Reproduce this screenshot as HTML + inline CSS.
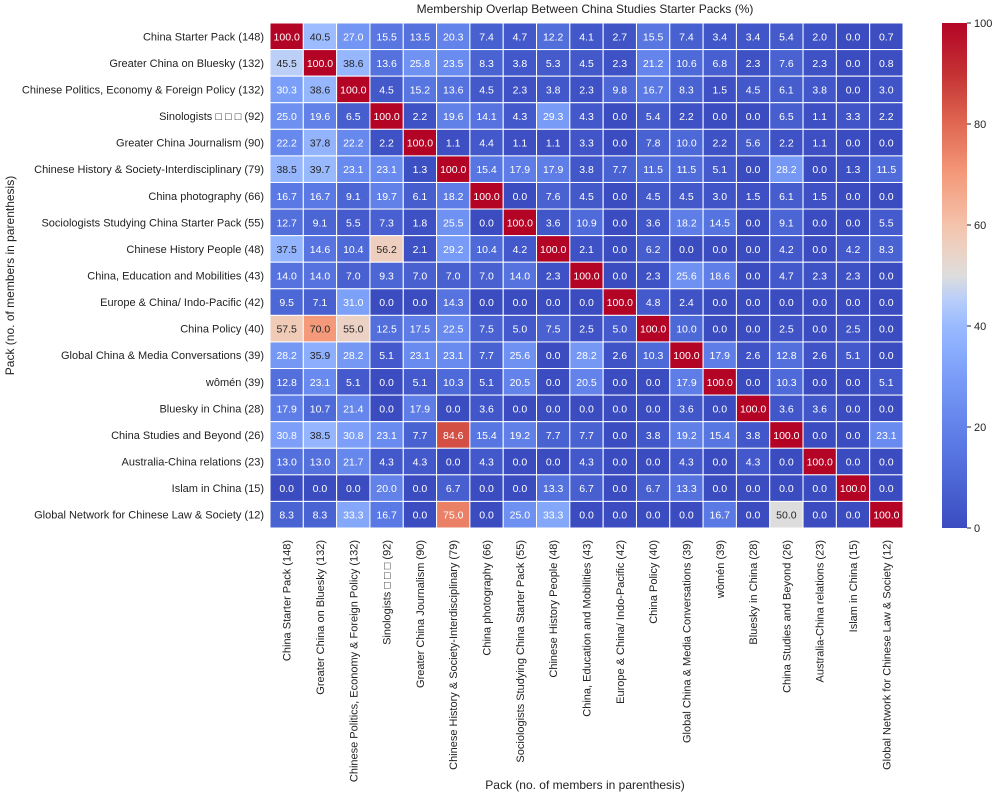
<!DOCTYPE html>
<html><head><meta charset="utf-8"><style>
body{margin:0;background:#fff;}
svg{display:block;font-family:"Liberation Sans","Noto Sans CJK SC",sans-serif;}
</style></head><body>
<svg id="chart" width="1000" height="798"></svg>
<script>
const labels=["China Starter Pack (148)","Greater China on Bluesky (132)","Chinese Politics, Economy & Foreign Policy (132)","Sinologists \u25A1 \u25A1 \u25A1  (92)","Greater China Journalism (90)","Chinese History & Society-Interdisciplinary (79)","China photography (66)","Sociologists Studying China Starter Pack (55)","Chinese History People (48)","China, Education and Mobilities (43)","Europe & China/ Indo-Pacific (42)","China Policy (40)","Global China & Media Conversations (39)","wômén (39)","Bluesky in China (28)","China Studies and Beyond (26)","Australia-China relations (23)","Islam in China (15)","Global Network for Chinese Law & Society (12)"];
const values=[
[100,40.5,27.0,15.5,13.5,20.3,7.4,4.7,12.2,4.1,2.7,15.5,7.4,3.4,3.4,5.4,2.0,0.0,0.7],
[45.5,100,38.6,13.6,25.8,23.5,8.3,3.8,5.3,4.5,2.3,21.2,10.6,6.8,2.3,7.6,2.3,0.0,0.8],
[30.3,38.6,100,4.5,15.2,13.6,4.5,2.3,3.8,2.3,9.8,16.7,8.3,1.5,4.5,6.1,3.8,0.0,3.0],
[25.0,19.6,6.5,100,2.2,19.6,14.1,4.3,29.3,4.3,0.0,5.4,2.2,0.0,0.0,6.5,1.1,3.3,2.2],
[22.2,37.8,22.2,2.2,100,1.1,4.4,1.1,1.1,3.3,0.0,7.8,10.0,2.2,5.6,2.2,1.1,0.0,0.0],
[38.5,39.7,23.1,23.1,1.3,100,15.4,17.9,17.9,3.8,7.7,11.5,11.5,5.1,0.0,28.2,0.0,1.3,11.5],
[16.7,16.7,9.1,19.7,6.1,18.2,100,0.0,7.6,4.5,0.0,4.5,4.5,3.0,1.5,6.1,1.5,0.0,0.0],
[12.7,9.1,5.5,7.3,1.8,25.5,0.0,100,3.6,10.9,0.0,3.6,18.2,14.5,0.0,9.1,0.0,0.0,5.5],
[37.5,14.6,10.4,56.2,2.1,29.2,10.4,4.2,100,2.1,0.0,6.2,0.0,0.0,0.0,4.2,0.0,4.2,8.3],
[14.0,14.0,7.0,9.3,7.0,7.0,7.0,14.0,2.3,100,0.0,2.3,25.6,18.6,0.0,4.7,2.3,2.3,0.0],
[9.5,7.1,31.0,0.0,0.0,14.3,0.0,0.0,0.0,0.0,100,4.8,2.4,0.0,0.0,0.0,0.0,0.0,0.0],
[57.5,70.0,55.0,12.5,17.5,22.5,7.5,5.0,7.5,2.5,5.0,100,10.0,0.0,0.0,2.5,0.0,2.5,0.0],
[28.2,35.9,28.2,5.1,23.1,23.1,7.7,25.6,0.0,28.2,2.6,10.3,100,17.9,2.6,12.8,2.6,5.1,0.0],
[12.8,23.1,5.1,0.0,5.1,10.3,5.1,20.5,0.0,20.5,0.0,0.0,17.9,100,0.0,10.3,0.0,0.0,5.1],
[17.9,10.7,21.4,0.0,17.9,0.0,3.6,0.0,0.0,0.0,0.0,0.0,3.6,0.0,100,3.6,3.6,0.0,0.0],
[30.8,38.5,30.8,23.1,7.7,84.6,15.4,19.2,7.7,7.7,0.0,3.8,19.2,15.4,3.8,100,0.0,0.0,23.1],
[13.0,13.0,21.7,4.3,4.3,0.0,4.3,0.0,0.0,4.3,0.0,0.0,4.3,0.0,4.3,0.0,100,0.0,0.0],
[0.0,0.0,0.0,20.0,0.0,6.7,0.0,0.0,13.3,6.7,0.0,6.7,13.3,0.0,0.0,0.0,0.0,100,0.0],
[8.3,8.3,33.3,16.7,0.0,75.0,0.0,25.0,33.3,0.0,0.0,0.0,0.0,16.7,0.0,50.0,0.0,0.0,100]];
const cbarTicks=[0,20,40,60,80,100];

const NS="http://www.w3.org/2000/svg";
const svg=document.getElementById('chart');
const X0=270,X1=903,Y0=23,Y1=528;
const n=labels.length, cw=(X1-X0)/n, ch=(Y1-Y0)/n;
const xPos=i=>X0+i*cw, yPos=i=>Y0+i*ch;
const stops=[[0,59,76,192],[0.1,77,104,215],[0.2,98,130,234],[0.3,122,157,248],[0.4,154,186,255],[0.45,183,205,250],[0.5,221,221,221],[0.55,236,210,196],[0.6,244,195,171],[0.7,244,154,123],[0.8,224,104,82],[0.9,196,50,51],[1,180,4,38]];
function cmap(v){let t=Math.max(0,Math.min(1,v/100));for(let i=1;i<stops.length;i++){if(t<=stops[i][0]){const a=stops[i-1],b=stops[i],f=(t-a[0])/(b[0]-a[0]);return [1,2,3].map(k=>Math.round(a[k]+(b[k]-a[k])*f));}}return stops[stops.length-1].slice(1);}
function lum(c){const l=c.map(x=>{x/=255;return x<=0.03928?x/12.92:Math.pow((x+0.055)/1.055,2.4);});return 0.2126*l[0]+0.7152*l[1]+0.0722*l[2];}
function mk(tag,attrs,parent){const e=document.createElementNS(NS,tag);for(const k in attrs)e.setAttribute(k,attrs[k]);(parent||svg).appendChild(e);return e;}

let t=mk('text',{x:585,y:13,'text-anchor':'middle','font-size':12,fill:'#222'});t.textContent='Membership Overlap Between China Studies Starter Packs (%)';



for(let r=0;r<n;r++)for(let c=0;c<n;c++){
  const v=values[r][c],col=cmap(v);
  const rect=mk('rect',{x:xPos(c),y:yPos(r),width:cw,height:ch,fill:`rgb(${col})`,stroke:'#fff','stroke-width':1});
  
  
  const tx=mk('text',{x:xPos(c)+cw/2,y:yPos(r)+ch/2+4,'text-anchor':'middle','font-size':10.5,fill:lum(col)>0.408?'#262626':'#fff'});
  tx.textContent=v.toFixed(1);
  
  
}
for(let i=0;i<n;i++){
  const yl=mk('text',{x:X0-6,y:yPos(i)+ch/2+4,'text-anchor':'end','font-size':11,fill:'#222'});
  yl.textContent=labels[i];
  
  
  const cx=xPos(i)+cw/2+4;
  const xl=mk('text',{x:0,y:0,'text-anchor':'end','font-size':11,fill:'#222',transform:`translate(${cx},${Y1+12}) rotate(-90)`});
  xl.textContent=labels[i];
  
  
}
t=mk('text',{x:585,y:789,'text-anchor':'middle','font-size':12,fill:'#222'});t.textContent='Pack (no. of members in parenthesis)';


t=mk('text',{x:0,y:0,'text-anchor':'middle','font-size':12,fill:'#222',transform:`translate(14,${(Y0+Y1)/2}) rotate(-90)`});t.textContent='Pack (no. of members in parenthesis)';



// colorbar
const CX=942,CW=25;
const defs=mk('defs',{});
const g=mk('linearGradient',{id:'cb',x1:0,y1:1,x2:0,y2:0},defs);
for(let i=0;i<=20;i++){mk('stop',{offset:i/20,'stop-color':`rgb(${cmap(i*5)})`},g);}
const cb=mk('rect',{x:CX,y:Y0,width:CW,height:Y1-Y0,fill:'url(#cb)'});


const cy=v=>Y1-(v/100)*(Y1-Y0);
cbarTicks.forEach(v=>{
  mk('line',{x1:CX+CW,x2:CX+CW+4,y1:cy(v),y2:cy(v),stroke:'#222'});
  const tl=mk('text',{x:CX+CW+7,y:cy(v)+4,'font-size':11,fill:'#222'});
  tl.textContent=v;
  
  
});
</script>
</body></html>
